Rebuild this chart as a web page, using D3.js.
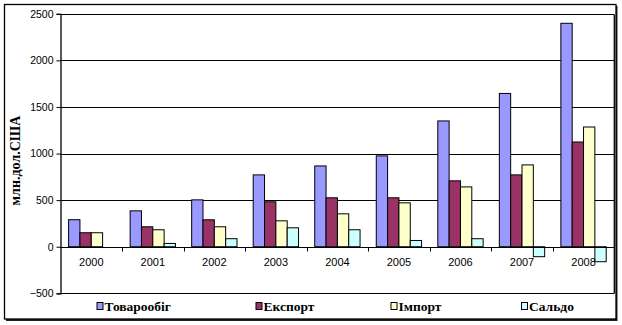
<!DOCTYPE html>
<html><head><meta charset="utf-8">
<script src="https://cdn.jsdelivr.net/npm/d3@7"></script>
<style>body{margin:0;background:#fff}svg{display:block}</style>
</head><body>
<script>
const years = ["2000","2001","2002","2003","2004","2005","2006","2007","2008"];
const seriesNames = ["Товарообіг","Експорт","Імпорт","Сальдо"];
const turnover = [290, 385, 503, 771, 867, 975, 1350, 1645, 2398];
const exportV  = [150, 214, 289, 482, 525, 525, 707, 771, 1124];
const importV  = [150, 182, 214, 278, 353, 471, 642, 878, 1285];
const saldo    = [0, 35, 86, 203, 182, 67, 86, -107, -161];
const yTicks = [-500, 0, 500, 1000, 1500, 2000, 2500];
const colors = ["#9999FF","#993366","#FFFFCC","#CCFFFF"];
const allSeries = [turnover, exportV, importV, saldo];

const W = 622, H = 325;
const svg = d3.select("body").append("svg").attr("width", W).attr("height", H);

// outer border with shadow
svg.append("rect").attr("x",6).attr("y",6).attr("width",611.5).attr("height",315).attr("fill","#222");
svg.append("rect").attr("x",4.5).attr("y",4.5).attr("width",611.5).attr("height",314.5)
  .attr("fill","#fff").attr("stroke","#000").attr("stroke-width",1.3);

const L = 60.5, R = 614.3, T = 13.8, B = 293.3;
const x = d3.scaleBand().domain(years).range([L, R]).paddingInner(0).paddingOuter(0);
const y = d3.scaleLinear().domain([-500, 2500]).range([B, T]);

// gridlines
svg.append("g").selectAll("line").data(yTicks).join("line")
  .attr("x1", L).attr("x2", R).attr("y1", d => Math.round(y(d))+0.5).attr("y2", d => Math.round(y(d))+0.5)
  .attr("stroke","#000").attr("stroke-width",1);
// plot border right
svg.append("line").attr("x1",R).attr("x2",R).attr("y1",Math.round(y(2500))+0.5).attr("y2",Math.round(y(-500))+0.5)
  .attr("stroke","#000").attr("stroke-width",1.3);

// bars
const bw = x.bandwidth() / (4 + 1.43);
const inner = d3.scaleBand().domain(d3.range(4)).range([0, bw*4]);
const gBars = svg.append("g");
allSeries.forEach((vals, si) => {
  gBars.selectAll(null).data(vals.map((v,i)=>({v, yr: years[i]}))).join("rect")
    .filter(d => d.v !== 0)
    .attr("x", d => x(d.yr) + bw*0.715 + inner(si))
    .attr("width", inner.bandwidth())
    .attr("y", d => y(Math.max(0, d.v)))
    .attr("height", d => Math.abs(y(d.v) - y(0)))
    .attr("fill", colors[si]).attr("stroke","#000").attr("stroke-width",1);
});

// y axis
const yAxis = d3.axisLeft(y).tickValues(yTicks).tickSize(4).tickPadding(3).tickFormat(d3.format("d"));
const gy = svg.append("g").attr("transform",`translate(${L},0)`).call(yAxis);
gy.select(".domain").attr("stroke","#000").attr("stroke-width",1.3);
gy.selectAll("text").attr("font-family","Liberation Sans, Arial, sans-serif").attr("font-size","10.5px").attr("fill","#000");

// x axis at 0
const xAxis = d3.axisBottom(x).tickSize(0).tickPadding(11);
const gx = svg.append("g").attr("transform",`translate(0,${Math.round(y(0))+0.5})`).call(xAxis);
gx.select(".domain").remove();
gx.selectAll("text").attr("font-family","Liberation Sans, Arial, sans-serif").attr("font-size","11px").attr("fill","#000");
gx.selectAll(null).data(years.slice(1)).join("line")
  .attr("x1", d => Math.round(x(d))+0.5).attr("x2", d => Math.round(x(d))+0.5).attr("y1",0).attr("y2",4)
  .attr("stroke","#000");
gx.append("line").attr("x1",L).attr("x2",R).attr("y1",0).attr("y2",0).attr("stroke","#000").attr("stroke-width",1);

// y title
svg.append("text").attr("transform",`translate(20,${(T+B)/2+7}) rotate(-90)`)
  .attr("text-anchor","middle").attr("font-family","Liberation Serif, Times New Roman, serif")
  .attr("font-weight","bold").attr("font-size","14px").text("млн.дол.США");

// legend
const legX = [96.5, 255.5, 390.5, 521];
const lg = svg.append("g");
seriesNames.forEach((n,i) => {
  lg.append("rect").attr("x",legX[i]+0.5).attr("y",302.5).attr("width",6).attr("height",7)
    .attr("fill",colors[i]).attr("stroke","#000").attr("stroke-width",1);
  lg.append("text").attr("x",legX[i]+8).attr("y",311).attr("font-family","Liberation Serif, Times New Roman, serif")
    .attr("font-weight","bold").attr("font-size","13.5px").text(n);
});
</script>
</body></html>
